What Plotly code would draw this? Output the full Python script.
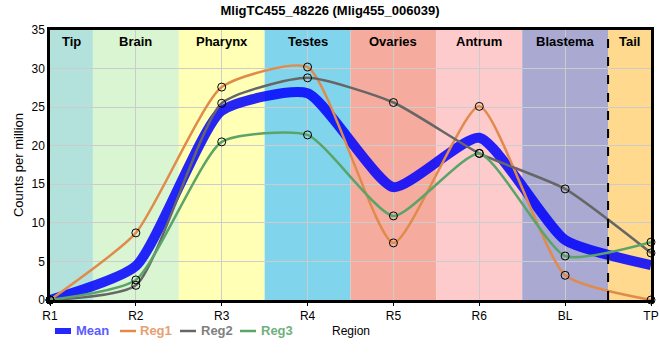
import plotly.graph_objects as go

regions = ["R1", "R2", "R3", "R4", "R5", "R6", "BL", "TP"]
reg1 = [0.0, 8.7, 27.6, 30.2, 7.4, 25.1, 3.2, 0.0]
reg2 = [0.0, 1.9, 25.5, 28.8, 25.6, 19.0, 14.4, 6.1]
reg3 = [0.0, 2.6, 20.5, 21.4, 10.9, 19.0, 5.7, 7.5]
mean = [round((a + b + c) / 3, 2) for a, b, c in zip(reg1, reg2, reg3)]

band_names = ["Tip", "Brain", "Pharynx", "Testes", "Ovaries", "Antrum", "Blastema", "Tail"]
band_edges = [0, 0.5, 1.5, 2.5, 3.5, 4.5, 5.5, 6.5, 7]
band_colors = ["#b3e2dd", "#d9f5d1", "#ffffb5", "#80d4ec", "#f5ab9d",
               "#fdcbcb", "#a9a9d1", "#fed98e"]

FONT = "Arial, Liberation Sans, sans-serif"
SMOOTH = 0.55

W, H = 660, 360
ML, MR, MT, MB = 50, 9, 30, 60
PW, PH = W - ML - MR, H - MT - MB


def px_x(p):
    return (p - ML) / PW


def px_y(p):
    return (H - MB - p) / PH


fig = go.Figure()

series = [
    ("Mean", mean, "rgba(0,0,255,0.85)", 10, "#5a5aff", False),
    ("Reg1", reg1, "#e08b4c", 2.5, "#e8a070", True),
    ("Reg2", reg2, "#666666", 2.5, "#808080", True),
    ("Reg3", reg3, "#5aa469", 2.5, "#6fb07d", True),
]
for name, vals, col, w, tcol, mk in series:
    fig.add_trace(go.Scatter(
        x=regions, y=vals, mode="lines",
        line=dict(color=col, width=w, shape="spline", smoothing=SMOOTH),
        name=name, showlegend=False, hoverinfo="skip",
    ))
for name, vals, col, w, tcol, mk in series:
    if mk:
        fig.add_trace(go.Scatter(
            x=regions, y=vals, mode="markers", showlegend=False,
            marker=dict(symbol="circle-open", color="black", size=8,
                        line=dict(width=1)),
            cliponaxis=False, hoverinfo="skip",
        ))

shapes = []
for i, nm in enumerate(band_names):
    shapes.append(dict(type="rect", xref="x", yref="paper",
                       x0=band_edges[i], x1=band_edges[i + 1], y0=0, y1=1,
                       fillcolor=band_colors[i], line=dict(width=0),
                       layer="below"))
shapes.append(dict(type="line", xref="x", yref="paper", x0=6.5, x1=6.5,
                   y0=0, y1=1, line=dict(color="black", width=2, dash="dash"),
                   layer="above"))

annotations = []
for i, nm in enumerate(band_names):
    annotations.append(dict(x=(band_edges[i] + band_edges[i + 1]) / 2,
                            xref="x", yref="paper", y=1, yanchor="top",
                            yshift=-2, text=f"<b>{nm}</b>", showarrow=False,
                            font=dict(size=13, color="black", family=FONT)))

# legend (drawn manually to match the compact reference layout)
leg_y = px_y(331)
leg_items = [(55, 71, 74), (120, 136, 138), (180, 196, 199), (240, 256, 259)]
for (name, vals, col, w, tcol, mk), (a, b, t) in zip(series, leg_items):
    shapes.append(dict(type="line", xref="paper", yref="paper",
                       x0=px_x(a), x1=px_x(b), y0=leg_y, y1=leg_y,
                       line=dict(color=col, width=6 if name == "Mean" else 2.5)))
    annotations.append(dict(x=px_x(t), xref="paper", y=leg_y, yref="paper",
                            xanchor="left", yanchor="middle",
                            text=f"<b>{name}</b>", showarrow=False,
                            font=dict(size=13, color=tcol, family=FONT)))
annotations.append(dict(x=px_x(351), xref="paper", y=leg_y, yref="paper",
                        yanchor="middle", xanchor="center", text="Region",
                        showarrow=False,
                        font=dict(size=12, color="black", family=FONT)))

fig.update_layout(
    width=W, height=H,
    margin=dict(l=ML, r=MR, t=MT, b=MB, autoexpand=False),
    paper_bgcolor="white", plot_bgcolor="white",
    font=dict(family=FONT, size=12, color="black"),
    title=dict(text="<b>MligTC455_48226 (Mlig455_006039)</b>",
               x=0.5, xanchor="center", xref="container",
               y=1 - 10 / H, yanchor="middle", yref="container",
               font=dict(size=13, color="black", family=FONT)),
    shapes=shapes, annotations=annotations,
    showlegend=False,
    xaxis=dict(type="category", range=[0, 7], showgrid=True,
               gridcolor="#cccccc", gridwidth=1, showline=True,
               linecolor="black", linewidth=2.5, mirror=True,
               ticks="outside", ticklen=3, tickcolor="black", automargin=False,
               tickfont=dict(size=12, color="black")),
    yaxis=dict(range=[0, 35], dtick=5, showgrid=True, gridcolor="#cccccc",
               gridwidth=1, showline=True, linecolor="black", linewidth=2.5,
               mirror=True, zeroline=False, ticks="", automargin=False,
               tickfont=dict(size=12, color="black"),
               title=dict(text="Counts per million", standoff=5,
                          font=dict(size=13))),
)

fig.write_html("out.html", config={"displayModeBar": False},
               post_script="document.body.style.margin='0px';")
